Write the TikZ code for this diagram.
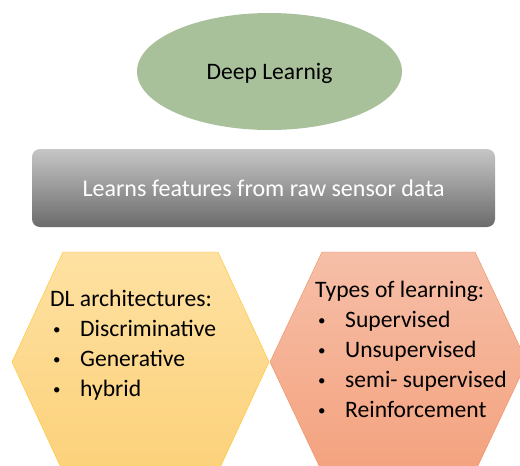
\documentclass[tikz,border=0pt]{standalone}
\usepackage{fontspec}
\setmainfont{Carlito}
\usepackage{tikz}
\usetikzlibrary{shapes.geometric}
\definecolor{sageink}{HTML}{A9C19B}
\definecolor{bartop}{HTML}{C6C6C6}
\definecolor{barbot}{HTML}{6B6B6B}
\definecolor{goldtop}{HTML}{FEE1A2}
\definecolor{goldbot}{HTML}{FCD17A}
\definecolor{goldink}{HTML}{FFC425}
\definecolor{peachtop}{HTML}{F6BFA8}
\definecolor{peachbot}{HTML}{F4A27E}
\definecolor{peachink}{HTML}{F08C5E}
\newcommand{\itm}[1]{\makebox[30pt][l]{\hspace{3pt}\raisebox{2.5pt}{\fontsize{15}{15}\selectfont\textbullet}}#1}

\begin{document}
\begin{tikzpicture}[x=1pt, y=-1pt,
  font=\fontsize{23.6}{30}\selectfont,
  hexlist/.style={anchor=north west, inner sep=0pt, align=left, text=black}]
  \clip (0,0) rectangle (520,466);
  \fill[white] (0,0) rectangle (520,466);
  % top: the ellipse
  \node[ellipse, fill=sageink, minimum width=265pt, minimum height=117pt,
        text depth=0pt] (deep) at (269.5,71.5) {Deep Learnig};
  % the grey bar
  \node[rectangle, rounded corners=8pt, top color=bartop, bottom color=barbot,
        minimum width=463pt, minimum height=78pt, text=white,
        text depth=0pt, font=\fontsize{24}{30}\selectfont]
        (raw) at (263.5,188) {Learns features from raw sensor data};
  % the two hexagons
  \path[draw=goldink, top color=goldtop, bottom color=goldbot]
    (12,362) -- (63,252) -- (218,252) -- (269,362) -- (218,472) -- (63,472) -- cycle;
  \path[draw=peachink, top color=peachtop, bottom color=peachbot]
    (270,362) -- (322,252) -- (475,252) -- (527,362) -- (475,472) -- (322,472) -- cycle;
  \node[hexlist] (arch) at (50,290) {DL architectures:\\ \itm{Discriminative}\\
    \itm{Generative}\\ \itm{hybrid}};
  \node[hexlist] (types) at (315,281) {Types of learning:\\ \itm{Supervised}\\
    \itm{Unsupervised}\\ \itm{semi- supervised}\\ \itm{Reinforcement}};
\end{tikzpicture}
\end{document}
